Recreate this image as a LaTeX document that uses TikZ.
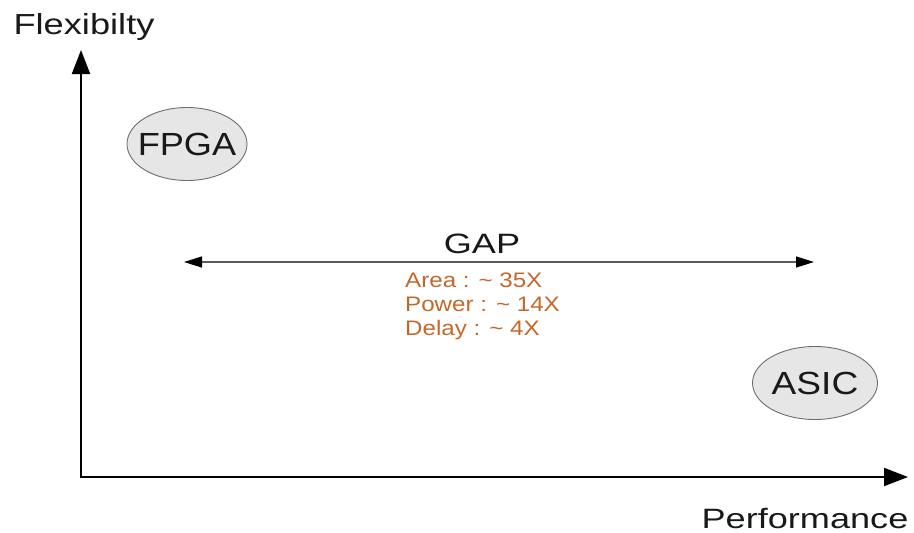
\documentclass[tikz,border=0pt]{standalone}
\usepackage{fontspec}
\setmainfont{Liberation Sans}
\usetikzlibrary{arrows.meta,shapes.geometric}
\definecolor{inkdark}{RGB}{25,25,25}
\definecolor{gaporange}{RGB}{196,104,42}
\definecolor{blobfill}{RGB}{230,230,230}
\definecolor{blobline}{RGB}{110,110,110}
\definecolor{gapline}{RGB}{90,90,90}
\tikzset{
  axis/.style={line width=2pt, draw=black, -{Triangle[length=24pt,width=18pt]}},
  gaparrow/.style={line width=1.3pt, draw=gapline,
    {Triangle[length=18pt,width=11pt,color=black]}-{Triangle[length=18pt,width=11pt,color=black]}},
  blob/.style={ellipse, draw=blobline, fill=blobfill, line width=0.9pt,
    minimum width=120pt, minimum height=73pt, inner sep=0pt, text=inkdark},
  bigtext/.style={inner sep=0pt, anchor=base, text=inkdark},
  metric/.style={inner sep=0pt, anchor=base west, text=gaporange,
    font=\fontsize{21}{24}\selectfont},
}
\newcommand{\wide}[2]{\scalebox{#1}[1]{#2}}
% label of fixed outline size: the text takes no width of its own
\newcommand{\blobtext}[2]{\makebox[0pt]{\wide{#1}{#2}}}
\begin{document}
\begin{tikzpicture}[x=1pt,y=-1pt]
  \useasboundingbox (0,0) rectangle (914,533);

  % axes
  \coordinate (origin) at (81,477);
  \coordinate (ytip) at (81,50);
  \coordinate (xtip) at (908,477);
  \draw[axis] ([yshift=1pt]origin) -- (ytip);
  \draw[axis] ([xshift=-1pt]origin) -- (xtip);

  \node[bigtext, font=\fontsize{29}{34}\selectfont] (ylabel) at (84,34) {\wide{1.25}{Flexibilty}};
  \node[bigtext, font=\fontsize{28}{34}\selectfont] (xlabel) at (805,528) {\wide{1.29}{Performance}};

  % the two design points
  \node[blob, font=\fontsize{32}{36}\selectfont] (fpga) at (187,144) {\blobtext{1.13}{FPGA}};
  \node[blob, minimum width=125pt, font=\fontsize{32}{36}\selectfont] (asic) at (815,383) {\blobtext{1.16}{ASIC}};

  % gap between them
  \coordinate (gapl) at (184,262);
  \coordinate (gapr) at (814,262);
  \draw[gaparrow] (gapl) -- (gapr);
  \node[bigtext, font=\fontsize{28}{34}\selectfont] (gap) at (482,253) {\wide{1.29}{GAP}};

  \node[metric] (area) at (405,287) {\wide{1.15}{Area : \textasciitilde{} 35X}};
  \node[metric] (power) at (405,311) {\wide{1.15}{Power : \textasciitilde{} 14X}};
  \node[metric] (delay) at (405,335) {\wide{1.15}{Delay : \textasciitilde{} 4X}};
\end{tikzpicture}
\end{document}
